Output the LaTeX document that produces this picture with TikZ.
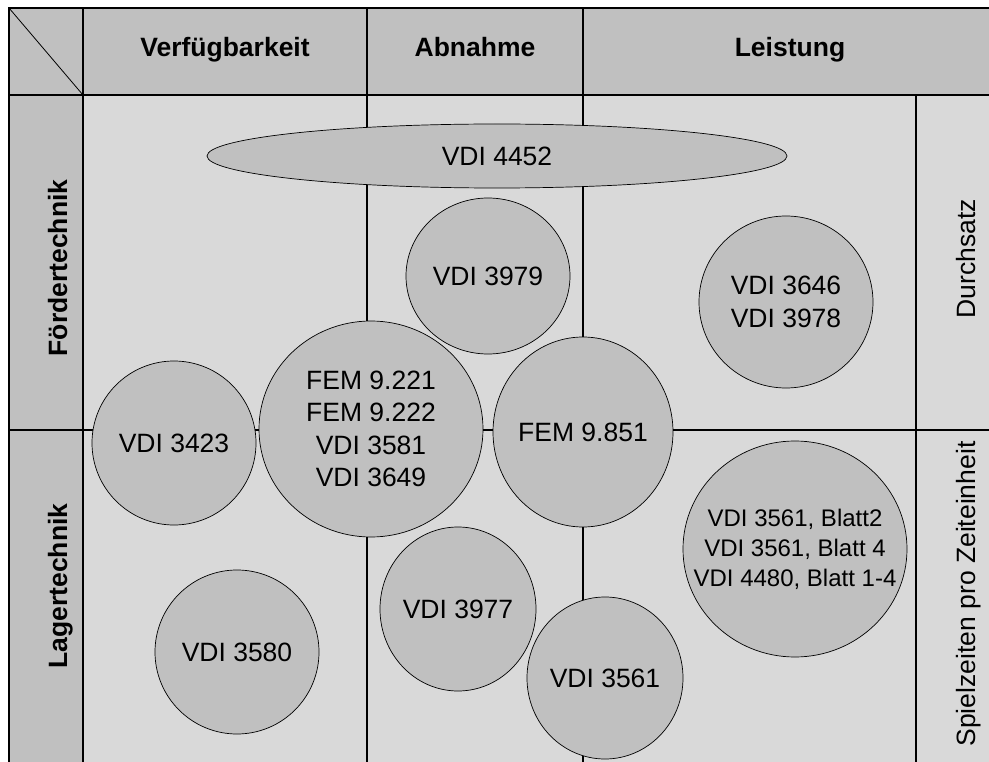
\documentclass[tikz,border=0pt]{standalone}
\usepackage{fontspec}
\setmainfont{Liberation Sans}
\usepackage{tikz}
\definecolor{headgray}{RGB}{192,192,192}
\definecolor{cellgray}{RGB}{217,217,217}

\begin{document}
\begin{tikzpicture}[x=1pt,y=-1pt,
	gridline/.style={line width=1.3pt},
	disc/.style={draw, fill=headgray, line width=0.7pt},
	stdtext/.style={inner sep=0pt, align=center, font=\fontsize{26.5}{32.5}\selectfont},
	headtext/.style={inner sep=0pt, anchor=base, font=\bfseries\fontsize{26.5}{32}\selectfont},
	sidetext/.style={inner sep=0pt, anchor=base, rotate=90, font=\fontsize{26.5}{32}\selectfont}]
	\useasboundingbox (0,0) rectangle (989,762);
	
	\coordinate (TL) at (9,8);
	\coordinate (HL) at (83,95);
	\coordinate (BR) at (995,770);
	
	% fields
	\fill[headgray] (TL) rectangle (995,95);
	\fill[headgray] (9,95) rectangle (83,770);
	\fill[cellgray] (HL) rectangle (BR);
	
	% table lines
	\draw[gridline] (TL) rectangle (BR);
	\draw[gridline] (9,95) -- (995,95);
	\draw[gridline] (83,8) -- (83,770);
	\draw[gridline] (367,8) -- (367,770);
	\draw[gridline] (583,8) -- (583,770);
	\draw[gridline] (916,95) -- (916,770);
	\draw[gridline] (9,430) -- (995,430);
	\draw[line width=0.8pt] (TL) -- (HL);
	
	\coordinate (C4452) at (497,156);
	\coordinate (C3979) at (488,276);
	\coordinate (C3646) at (786,302);
	\coordinate (C3423) at (174,443);
	\coordinate (CFEM) at (371,429);
	\coordinate (C9851) at (583,432);
	\coordinate (CBlatt) at (795,549);
	\coordinate (C3580) at (237,652);
	\coordinate (C3977) at (458,609);
	\coordinate (C3561) at (605,678);
	
	% norms
	\draw[disc] (C4452) ellipse [x radius=290pt, y radius=32pt];
	\draw[disc] (C3979) ellipse [x radius=82pt, y radius=78pt];
	\draw[disc] (C3646) ellipse [x radius=87pt, y radius=86pt];
	\draw[disc] (C3423) ellipse [x radius=82pt, y radius=82pt];
	\draw[disc] (CFEM) ellipse [x radius=112pt, y radius=108pt];
	\draw[disc] (C9851) ellipse [x radius=90pt, y radius=95pt];
	\draw[disc] (CBlatt) ellipse [x radius=112pt, y radius=108pt];
	\draw[disc] (C3580) ellipse [x radius=82pt, y radius=82pt];
	\draw[disc] (C3977) ellipse [x radius=78pt, y radius=82pt];
	\draw[disc] (C3561) ellipse [x radius=78pt, y radius=81pt];
	
	\node[stdtext] (vdi4452) at (C4452) {VDI 4452};
	\node[stdtext] (vdi3979) at (C3979) {VDI 3979};
	\node[stdtext] (vdi3646) at (C3646) {VDI 3646\\VDI 3978};
	\node[stdtext] (vdi3423) at (C3423) {VDI 3423};
	\node[stdtext] (fem) at (CFEM) {FEM 9.221\\FEM 9.222\\VDI 3581\\VDI 3649};
	\node[stdtext] (fem9851) at (C9851) {FEM 9.851};
	\node[stdtext, font=\fontsize{24}{30}\selectfont] (blatt) at (CBlatt) {VDI 3561, Blatt2\\VDI 3561, Blatt 4\\VDI 4480, Blatt 1-4};
	\node[stdtext] (vdi3580) at (C3580) {VDI 3580};
	\node[stdtext] (vdi3977) at (C3977) {VDI 3977};
	\node[stdtext] (vdi3561) at (C3561) {VDI 3561};
	
	% headings
	\node[headtext] (verf) at (225,57) {Verfügbarkeit};
	\node[headtext] (abn) at (475,57) {Abnahme};
	\node[headtext] (leist) at (790,57) {Leistung};
	\node[sidetext, font=\bfseries\fontsize{26.5}{32}\selectfont] (foerder) at (67,268) {Fördertechnik};
	\node[sidetext, font=\bfseries\fontsize{26.5}{32}\selectfont] (lager) at (67,586) {Lagertechnik};
	\node[sidetext] (durch) at (975,259) {Durchsatz};
	\node[sidetext] (spiel) at (975,594) {Spielzeiten pro Zeiteinheit};
\end{tikzpicture}
\end{document}
